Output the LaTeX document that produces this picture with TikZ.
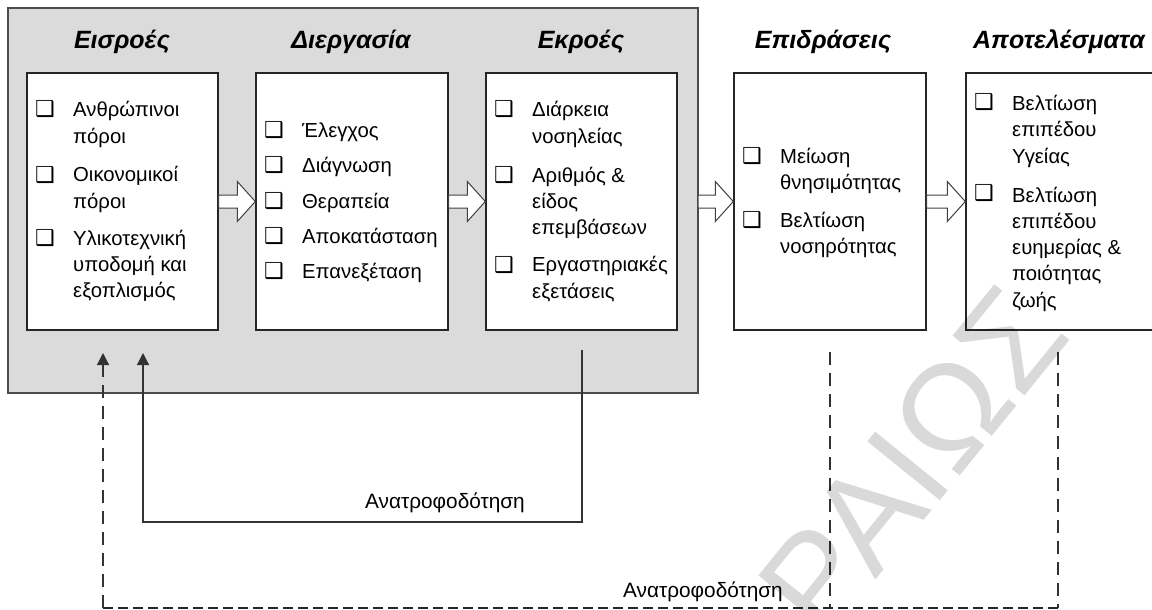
\documentclass[tikz,border=0pt]{standalone}
\usepackage{fontspec}
\setmainfont{Liberation Sans}
\newfontfamily\symfont{DejaVu Sans}
\usetikzlibrary{arrows.meta,calc}

\newcommand\chk{{\symfont\fontsize{22}{22}\selectfont ❑}}

\tikzset{
  sysbox/.style={draw=black!70, line width=1.4pt, fill=black!14},
  box/.style={draw=black!85, line width=1.4pt, fill=white, inner sep=0pt},
  title/.style={font=\fontsize{25}{28}\selectfont\bfseries\itshape, anchor=base, inner sep=0pt},
  chkmark/.style={anchor=base west, inner sep=0pt},
  % multi-line items are placed by the baseline of their last line
  body/.style={font=\fontsize{20.3}{26.2}\selectfont, anchor=base west, align=left, inner sep=0pt},
  blk/.style={draw=black!75, line width=1pt, fill=white},
  fb/.style={draw=black!80, line width=1.3pt},
  dfb/.style={draw=black!80, line width=1.3pt, dash pattern=on 13pt off 8pt},
  dfbh/.style={draw=black!85, line width=2pt, dash pattern=on 10pt off 5pt},
  tip/.style={-{Triangle[width=12pt,length=12pt]}},
  fblabel/.style={font=\fontsize{20.8}{24}\selectfont, anchor=base, inner sep=0pt},
  wmark/.style={font=\fontsize{136}{140}\selectfont, text=black, text opacity=0.15, inner sep=0pt}
}

% hollow block arrow from #1 to the tip #2
\newcommand\blockarrow[2]{%
  \draw[blk] ($(#1)+(0,-6.5)$) -- ($(#2)+(-18,-6.5)$) -- ($(#2)+(-18,-20)$)
    -- (#2) -- ($(#2)+(-18,20)$) -- ($(#2)+(-18,6.5)$) -- ($(#1)+(0,6.5)$) -- cycle;}

\begin{document}
\begin{tikzpicture}[x=1pt, y=-1pt]
\useasboundingbox (0,0) rectangle (1152,610);

% health system frame
\draw[sysbox] (8,8) rectangle (698,393);
\coordinate (sysE) at (698,201.5);

% stage boxes
\node[box, minimum width=191pt, minimum height=257pt] (b1) at (122.5,201.5) {};
\node[box, minimum width=192pt, minimum height=257pt] (b2) at (352,201.5) {};
\node[box, minimum width=191pt, minimum height=257pt] (b3) at (581.5,201.5) {};
\node[box, minimum width=192pt, minimum height=257pt] (b4) at (830,201.5) {};
\node[box, minimum width=194pt, minimum height=257pt] (b5) at (1063,201.5) {};

% stage titles
\node[title] (t1) at (122,49) {Εισροές};
\node[title] (t2) at (351,49) {Διεργασία};
\node[title] (t3) at (581,49) {Εκροές};
\node[title] (t4) at (823,49) {Επιδράσεις};
\node[title] (t5) at (1059,49) {Αποτελέσματα};

% inputs
\node[chkmark] (m11) at (35,117) {\chk};
\node[body] (i11) at (73,143) {Ανθρώπινοι\\πόροι};
\node[chkmark] (m12) at (35,182) {\chk};
\node[body] (i12) at (73,208) {Οικονομικοί\\πόροι};
\node[chkmark] (m13) at (35,245) {\chk};
\node[body] (i13) at (73,297.5) {Υλικοτεχνική\\υποδομή και\\εξοπλισμός};

% process
\node[chkmark] (m21) at (264,137) {\chk};
\node[body] (i21) at (302,137) {Έλεγχος};
\node[chkmark] (m22) at (264,172) {\chk};
\node[body] (i22) at (302,172) {Διάγνωση};
\node[chkmark] (m23) at (264,208) {\chk};
\node[body] (i23) at (302,208) {Θεραπεία};
\node[chkmark] (m24) at (264,243) {\chk};
\node[body] (i24) at (302,243) {Αποκατάσταση};
\node[chkmark] (m25) at (264,278) {\chk};
\node[body] (i25) at (302,278) {Επανεξέταση};

% outputs
\node[chkmark] (m31) at (494,117) {\chk};
\node[body] (i31) at (532,143) {Διάρκεια\\νοσηλείας};
\node[chkmark] (m32) at (494,182) {\chk};
\node[body] (i32) at (532,234.5) {Αριθμός \&\\είδος\\επεμβάσεων};
\node[chkmark] (m33) at (494,272) {\chk};
\node[body] (i33) at (532,298) {Εργαστηριακές\\εξετάσεις};

% impacts
\node[chkmark] (m41) at (742,163) {\chk};
\node[body] (i41) at (780,189.5) {Μείωση\\θνησιμότητας};
\node[chkmark] (m42) at (742,227) {\chk};
\node[body] (i42) at (780,253.5) {Βελτίωση\\νοσηρότητας};

% outcomes
\node[chkmark] (m51) at (974,110) {\chk};
\node[body] (i51) at (1012,163) {Βελτίωση\\επιπέδου\\Υγείας};
\node[chkmark] (m52) at (974,200) {\chk};
\node[body] (i52) at (1012,307) {Βελτίωση\\επιπέδου\\ευημερίας \&\\ποιότητας\\ζωής};

% flow between stages
\blockarrow{b1.east}{b2.west}
\blockarrow{b2.east}{b3.west}
\blockarrow{sysE}{b4.west}
\blockarrow{b4.east}{b5.west}

% feedback loops
\coordinate (outS) at (582,350);
\coordinate (inA) at (143,353);
\coordinate (inB) at (103,353);
\coordinate (impS) at (830,352);
\coordinate (resS) at (1058,352);
\coordinate (base) at (1058,608);

\draw[fb, tip] (outS) -- ++(0,172) -| (inA);
\node[fblabel] (l1) at (445,508) {Ανατροφοδότηση};

\draw[dfb] (impS) -- (impS |- base);
\draw[dfb] (resS) -- (base);
\draw[dfbh] (base) -- (inB |- base);
\draw[dfb, tip] (inB |- base) -- (inB);
\node[fblabel] (l2) at (703,597) {Ανατροφοδότηση};

% watermark
\node[wmark, rotate=51] (wm) at (912,460) {ΡΑΙΩΣ};
\end{tikzpicture}
\end{document}
